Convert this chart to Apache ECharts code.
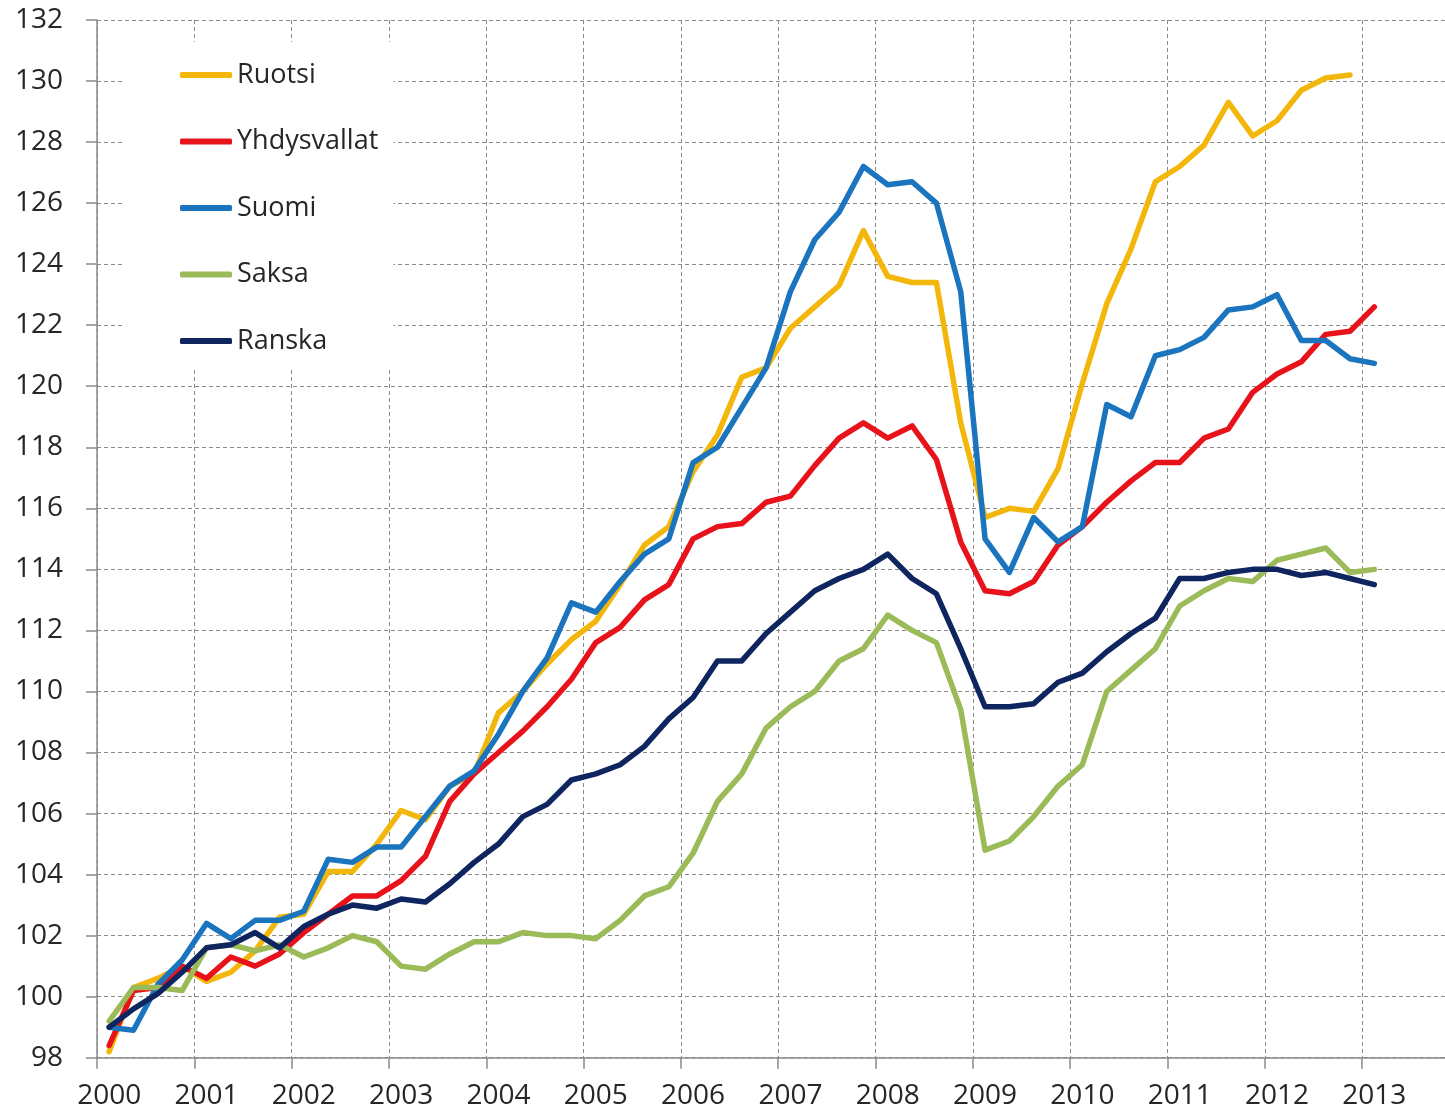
<!DOCTYPE html>
<html>
<head>
<meta charset="utf-8">
<script src="https://cdn.jsdelivr.net/npm/echarts@6.0.0/dist/echarts.min.js"></script>
<style>
  html, body { margin: 0; padding: 0; background: #ffffff; }
  #chart { width: 1445px; height: 1109px; }
</style>
</head>
<body>
<div id="chart"></div>
<script>
  // vuodet, neljännesvuosittain (akseli jatkuu 2013 loppuun)
  var years = [2000, 2001, 2002, 2003, 2004, 2005, 2006, 2007, 2008, 2009, 2010, 2011, 2012, 2013];
  var quarters = [];
  for (var y = 0; y < years.length; y++) {
    for (var q = 1; q <= 4; q++) {
      quarters.push(years[y] + 'Q' + q);
    }
  }

  // y-akselin asteikko
  var yMin = 98;
  var yMax = 132;
  var yStep = 2;

  // sarjat (luettu kuvasta)
  var ruotsi = [98.2, 100.3, 100.6, 101.0, 100.5, 100.8, 101.5, 102.6, 102.7, 104.1, 104.1, 105.0, 106.1,
    105.8, 106.9, 107.3, 109.3, 110.0, 110.9, 111.7, 112.3, 113.5, 114.8, 115.4, 117.2, 118.4, 120.3,
    120.6, 121.9, 122.6, 123.3, 125.1, 123.6, 123.4, 123.4, 118.8, 115.7, 116.0, 115.9, 117.3, 120.1,
    122.7, 124.5, 126.7, 127.2, 127.9, 129.3, 128.2, 128.7, 129.7, 130.1, 130.2];
  var yhdysvallat = [98.4, 100.2, 100.3, 101.0, 100.6, 101.3, 101.0, 101.4, 102.1, 102.7, 103.3, 103.3, 103.8,
    104.6, 106.4, 107.3, 108.0, 108.7, 109.5, 110.4, 111.6, 112.1, 113.0, 113.5, 115.0, 115.4, 115.5,
    116.2, 116.4, 117.4, 118.3, 118.8, 118.3, 118.7, 117.6, 114.9, 113.3, 113.2, 113.6, 114.8, 115.4,
    116.2, 116.9, 117.5, 117.5, 118.3, 118.6, 119.8, 120.4, 120.8, 121.7, 121.8, 122.6];
  var suomi = [99.0, 98.9, 100.4, 101.2, 102.4, 101.9, 102.5, 102.5, 102.8, 104.5, 104.4, 104.9, 104.9,
    105.9, 106.9, 107.4, 108.6, 110.0, 111.1, 112.9, 112.6, 113.6, 114.5, 115.0, 117.5, 118.0, 119.3,
    120.6, 123.1, 124.8, 125.7, 127.2, 126.6, 126.7, 126.0, 123.1, 115.0, 113.9, 115.7, 114.9, 115.4,
    119.4, 119.0, 121.0, 121.2, 121.6, 122.5, 122.6, 123.0, 121.5, 121.5, 120.9, 120.75];
  var saksa = [99.2, 100.3, 100.3, 100.2, 101.6, 101.7, 101.5, 101.7, 101.3, 101.6, 102.0, 101.8, 101.0,
    100.9, 101.4, 101.8, 101.8, 102.1, 102.0, 102.0, 101.9, 102.5, 103.3, 103.6, 104.7, 106.4, 107.3,
    108.8, 109.5, 110.0, 111.0, 111.4, 112.5, 112.0, 111.6, 109.4, 104.8, 105.1, 105.9, 106.9, 107.6,
    110.0, 110.7, 111.4, 112.8, 113.3, 113.7, 113.6, 114.3, 114.5, 114.7, 113.9, 114.0];
  var ranska = [99.0, 99.6, 100.1, 100.8, 101.6, 101.7, 102.1, 101.6, 102.3, 102.7, 103.0, 102.9, 103.2,
    103.1, 103.7, 104.4, 105.0, 105.9, 106.3, 107.1, 107.3, 107.6, 108.2, 109.1, 109.8, 111.0, 111.0,
    111.9, 112.6, 113.3, 113.7, 114.0, 114.5, 113.7, 113.2, 111.4, 109.5, 109.5, 109.6, 110.3, 110.6,
    111.3, 111.9, 112.4, 113.7, 113.7, 113.9, 114.0, 114.0, 113.8, 113.9, 113.7, 113.5];

  var seriesNames = ['Ruotsi', 'Yhdysvallat', 'Suomi', 'Saksa', 'Ranska'];
  var seriesData = [ruotsi, yhdysvallat, suomi, saksa, ranska];
  var seriesColors = ['#F3B70C', '#E8121A', '#1B74BE', '#9BBB59', '#0E2560'];

  var fontName = '"Open Sans", "Liberation Sans", sans-serif';
  var axisGrey = '#8a8a8a';

  var series = [];
  for (var i = 0; i < seriesNames.length; i++) {
    series.push({
      name: seriesNames[i],
      type: 'line',
      data: seriesData[i],
      symbol: 'none',
      lineStyle: { width: 5.5, color: seriesColors[i], cap: 'round', join: 'round' },
      itemStyle: { color: seriesColors[i] }
    });
  }

  var chart = echarts.init(document.getElementById('chart'));
  chart.setOption({
    animation: false,
    backgroundColor: '#ffffff',
    grid: {
      left: 97,
      top: 20,
      width: 1362.5,
      height: 1037.7,
      containLabel: false,
      outerBoundsMode: 'none'
    },
    legend: {
      orient: 'vertical',
      left: 125,
      top: 42,
      padding: [18, 15, 14, 55],
      backgroundColor: '#ffffff',
      icon: 'roundRect',
      itemWidth: 52,
      itemHeight: 6,
      itemGap: 36.5,
      textStyle: {
        fontFamily: fontName,
        fontSize: 27,
        lineHeight: 30,
        color: '#262626'
      },
      data: seriesNames
    },
    xAxis: {
      type: 'category',
      data: quarters,
      boundaryGap: true,
      axisLine: { lineStyle: { color: axisGrey, width: 1.5 } },
      axisTick: { show: true, interval: 3, length: 11, lineStyle: { color: axisGrey, width: 1.5 } },
      axisLabel: {
        interval: 3,
        margin: 24,
        fontFamily: fontName,
        fontSize: 28,
        color: '#262626',
        formatter: function (v) { return v.slice(0, 4); }
      },
      splitLine: {
        show: true,
        interval: 3,
        lineStyle: { color: axisGrey, width: 1, type: [4, 3] }
      }
    },
    yAxis: {
      type: 'value',
      min: yMin,
      max: yMax,
      interval: yStep,
      axisLine: { show: true, lineStyle: { color: axisGrey, width: 1.5 } },
      axisTick: { show: true, length: 11, lineStyle: { color: axisGrey, width: 1.5 } },
      axisLabel: {
        margin: 34,
        fontFamily: fontName,
        fontSize: 28,
        color: '#262626'
      },
      splitLine: {
        show: true,
        lineStyle: { color: axisGrey, width: 1, type: [4, 3] }
      }
    },
    series: series
  });
</script>
</body>
</html>
